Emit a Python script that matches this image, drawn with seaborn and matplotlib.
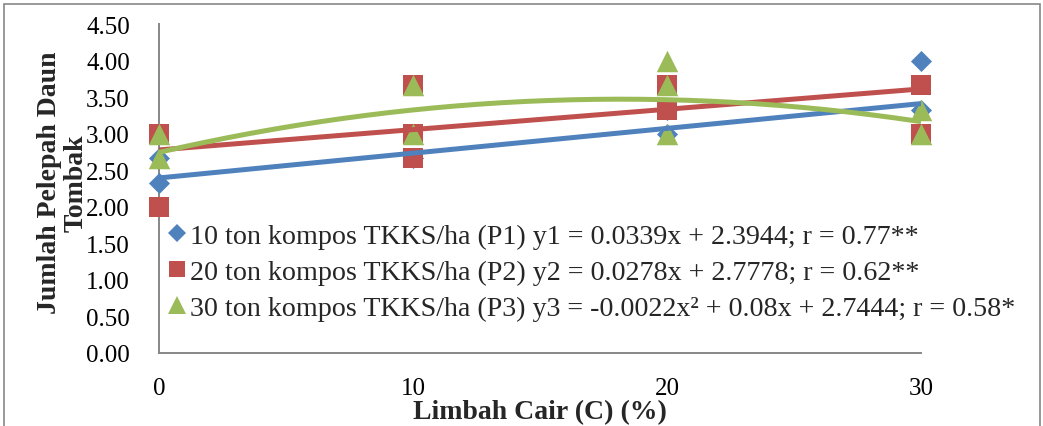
import numpy as np
import pandas as pd
import matplotlib
matplotlib.use("Agg")
import matplotlib.pyplot as plt
from matplotlib.lines import Line2D
from matplotlib.patches import Rectangle
import seaborn as sns

# Observed leaf-frond counts per treatment at each liquid-waste level
p1_x = [0, 0, 10, 20, 20, 30, 30]
p1_y = [2.33, 2.67, 2.67, 3.00, 3.33, 3.33, 4.00]
p2_x = [0, 0, 10, 10, 10, 20, 20, 30, 30]
p2_y = [3.00, 2.00, 3.67, 3.00, 2.67, 3.67, 3.33, 3.67, 3.00]
p3_x = [0, 0, 10, 10, 20, 20, 20, 30, 30]
p3_y = [3.00, 2.67, 3.67, 3.00, 4.00, 3.67, 3.00, 3.33, 3.00]

# Regression coefficients (highest power first)
p1_coef = [0.0339, 2.3944]
p2_coef = [0.0278, 2.7778]
p3_coef = [-0.0022, 0.08, 2.7444]

series_names = ["10 ton kompos TKKS/ha (P1)",
                "20 ton kompos TKKS/ha (P2)",
                "30 ton kompos TKKS/ha (P3)"]
equations = ["y1 = 0.0339x + 2.3944; r = 0.77**",
             "y2 = 0.0278x + 2.7778; r = 0.62**",
             "y3 = -0.0022x\u00b2 + 0.08x + 2.7444; r = 0.58*"]

x_ticks = [0, 10, 20, 30]
y_ticks = [0.0, 0.5, 1.0, 1.5, 2.0, 2.5, 3.0, 3.5, 4.0, 4.5]

colors = ["#4F81BD", "#C0504D", "#9BBB59"]
markers = ["D", "s", "^"]
msizes = [115, 225, 240]

sns.set_style("white")
plt.rcParams["font.family"] = ["Liberation Serif", "DejaVu Serif"]

W, H = 1043, 427
fig = plt.figure(figsize=(W / 100, H / 100), dpi=100)
ax = fig.add_axes([159 / W, 1 - 354 / H, (921 - 159) / W, (354 - 25) / H])

xs_all = [p1_x, p2_x, p3_x]
ys_all = [p1_y, p2_y, p3_y]
coefs = [p1_coef, p2_coef, p3_coef]

for xs, ys, c, m, s in zip(xs_all, ys_all, colors, markers, msizes):
    df = pd.DataFrame({"x": xs, "y": ys})
    sns.scatterplot(data=df, x="x", y="y", color=c, marker=m, s=s,
                    linewidth=0, ax=ax, zorder=3, clip_on=False)

xx = np.linspace(0, 30, 200)
for coef, c in zip(coefs, colors):
    fit = pd.DataFrame({"x": xx, "y": np.polyval(coef, xx)})
    sns.lineplot(data=fit, x="x", y="y", color=c, lw=3.6, ax=ax,
                 zorder=4, solid_capstyle="butt")

ax.set_xlim(0, 30)
ax.set_ylim(0, 4.5)
ax.set_xticks(x_ticks)
ax.set_xticklabels([str(v) for v in x_ticks])
ax.set_yticks(y_ticks)
ax.set_yticklabels([f"{v:.2f}" for v in y_ticks])

for side in ["top", "right"]:
    ax.spines[side].set_visible(False)
for side in ["left", "bottom"]:
    ax.spines[side].set_color("#878787")
    ax.spines[side].set_linewidth(1.4)

ax.tick_params(axis="both", which="major", direction="out", length=6,
               width=1.2, color="#878787", labelsize=18, labelcolor="black")
ax.tick_params(axis="x", pad=11)
ax.tick_params(axis="y", pad=15)

ax.set_xlabel("Limbah Cair (C) (%)", fontsize=20, fontweight="bold", labelpad=0)
ax.set_ylabel("Jumlah Pelepah Daun\nTombak", fontsize=20, fontweight="bold",
              labelpad=0, linespacing=1.1)
ax.yaxis.set_label_coords(-0.092, 0.52)

handles = [Line2D([0], [0], linestyle="none", marker=m, color=c,
                  markersize=ms, markeredgewidth=0)
           for m, c, ms in zip(markers, colors, [8.8, 12, 12.5])]
labels = [f"{n} {e}" for n, e in zip(series_names, equations)]
leg = ax.legend(handles, labels, loc="upper left",
                bbox_to_anchor=(8 / 762, (354 - 224) / 329), frameon=False,
                fontsize=20.2, handlelength=0.7, handletextpad=0.12,
                borderaxespad=0, labelspacing=0.38, borderpad=0.0)

# Outer chart frame
fig.patches.append(Rectangle((4 / W, -0.01), (1040 - 4) / W, 1 - 5 / H + 0.01,
                             transform=fig.transFigure, fill=False,
                             edgecolor="#878787", linewidth=1.2))

fig.savefig("out.png", dpi=100)
